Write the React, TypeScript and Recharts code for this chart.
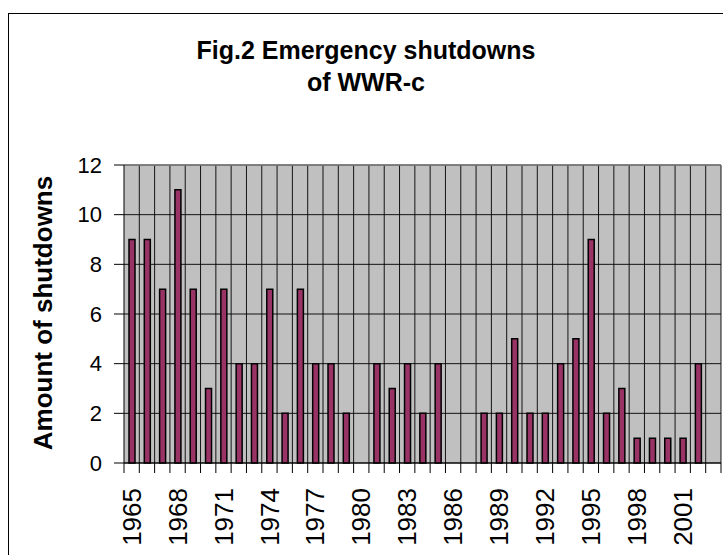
import React from 'react';
import { BarChart, Bar, XAxis, YAxis, CartesianGrid, ReferenceLine } from 'recharts';

const years = [
  '1965', '1966', '1967', '1968', '1969', '1970', '1971', '1972', '1973', '1974',
  '1975', '1976', '1977', '1978', '1979', '1980', '1981', '1982', '1983', '1984',
  '1985', '1986', '1987', '1988', '1989', '1990', '1991', '1992', '1993', '1994',
  '1995', '1996', '1997', '1998', '1999', '2000', '2001', '2002', '2003',
];
const shutdowns = [
  9, 9, 7, 11, 7, 3, 7, 4, 4, 7,
  2, 7, 4, 4, 2, 0, 4, 3, 4, 2,
  4, 0, 0, 2, 2, 5, 2, 2, 4, 5,
  9, 2, 3, 1, 1, 1, 1, 4, 0,
];
const yTicks = [0, 2, 4, 6, 8, 10, 12];
const labelEvery = 3;

const data = years.map((year, i) => ({ year, value: shutdowns[i] }));

const CHART_W = 723;
const CHART_H = 555;
const MARGIN = { top: 165, right: 2, bottom: 7, left: 64 };
const Y_AXIS_W = 60;
const PLOT_W = CHART_W - MARGIN.left - Y_AXIS_W - MARGIN.right;
const BAND = PLOT_W / data.length;
const FONT = '"Liberation Sans", Arial, sans-serif';

// tick marks sit on the category boundaries, labels on every 3rd year
function YearTick(props: any) {
  const { x, y, payload, index } = props;
  const last = index === data.length - 1;
  return (
    <g>
      <line x1={x - BAND / 2} x2={x - BAND / 2} y1={y} y2={y + 10} stroke="#000" />
      {last && <line x1={x + BAND / 2} x2={x + BAND / 2} y1={y} y2={y + 10} stroke="#000" />}
      {index % labelEvery === 0 && (
        <text
          x={x}
          y={y + 25}
          dy="0.35em"
          textAnchor="end"
          transform={`rotate(-90, ${x}, ${y + 25})`}
          fontSize={26}
          fontFamily={FONT}
          fill="#000"
        >
          {payload.value}
        </text>
      )}
    </g>
  );
}

export default function App() {
  return (
    <div style={{ position: 'absolute', left: 0, top: 0, width: CHART_W, height: CHART_H, overflow: 'hidden', background: '#fff', fontFamily: FONT }}>
      <div style={{ position: 'absolute', left: 8, top: 13, width: 800, height: 700, border: '1px solid #000' }} />
      <div style={{ position: 'absolute', left: 0, width: 732, top: 34, textAlign: 'center', fontWeight: 'bold', fontSize: 25, lineHeight: '32px', color: '#000' }}>
        Fig.2 Emergency shutdowns
        <br />
        of WWR-c
      </div>
      <div style={{ position: 'absolute', left: 43, top: 313, transform: 'translate(-50%, -50%) rotate(-90deg)', whiteSpace: 'nowrap', fontWeight: 'bold', fontSize: 26, color: '#000' }}>
        Amount of shutdowns
      </div>
      <BarChart width={CHART_W} height={CHART_H} data={data} margin={MARGIN} barSize={6}>
        <CartesianGrid
          fill="#c0c0c0"
          stroke="#000"
          strokeOpacity={0.9}
          verticalCoordinatesGenerator={(p: any) => {
            const left = p && p.offset ? p.offset.left : MARGIN.left + Y_AXIS_W;
            const w = p && p.offset ? p.offset.width : PLOT_W;
            return data.map((_, i) => left + ((i + 1) * w) / data.length);
          }}
        />
        <ReferenceLine y={12} stroke="#808080" strokeWidth={1.5} />
        <XAxis
          dataKey="year"
          interval={0}
          tickLine={false}
          tickSize={0}
          tickMargin={0}
          height={85}
          axisLine={{ stroke: '#000' }}
          tick={<YearTick />}
        />
        <YAxis
          domain={[0, 12]}
          ticks={yTicks}
          width={Y_AXIS_W}
          tickSize={10}
          tickMargin={12}
          axisLine={{ stroke: '#000' }}
          tickLine={{ stroke: '#000' }}
          tick={{ fill: '#000', fontSize: 22, fontFamily: FONT }}
        />
        <Bar dataKey="value" fill="#993366" stroke="#000" strokeWidth={1.5} isAnimationActive={false} />
      </BarChart>
    </div>
  );
}
